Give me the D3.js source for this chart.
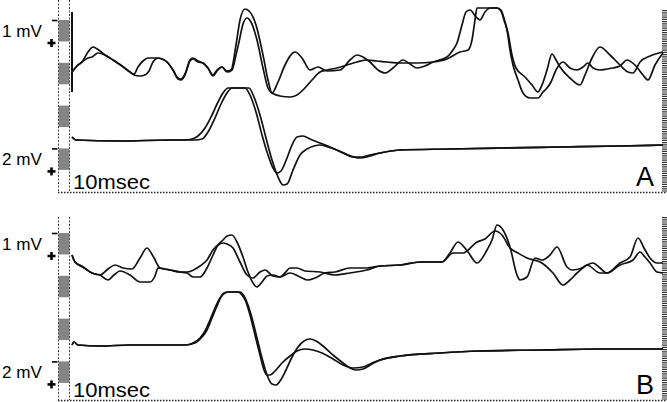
<!DOCTYPE html>
<html>
<head>
<meta charset="utf-8">
<script src="https://cdn.jsdelivr.net/npm/d3@7"></script>
<style>
  body { margin: 0; background: #fff; }
  svg { display: block; }
  text { font-family: "Liberation Sans", Arial, sans-serif; fill: #000; }
</style>
</head>
<body>
<div id="chart"></div>
<script>
'use strict';

// trace samples: [time (ms-ish units), amplitude (mV, + is down)]
const aUpper1 = [[0,0],[2.5,-0.3],[5,-0.5],[8,-1],[10.5,-1.25],[14,-1.05],[16.5,-0.85],[20.5,-0.6],[25,-0.3],[29,0],[31,0.1],[33,-0.25],[35.5,-0.55],[38,-0.7],[41.5,-0.7],[45,-0.65],[47.5,-0.5],[50.5,-0.1],[53,0.3],[54.5,0.35],[56.5,0.1],[59,-0.6],[60.5,-0.7],[63,-0.55],[65.5,-0.45],[68,-0.2],[70.5,0.15],[72.5,-0.1],[75,-0.25],[77.5,-0.05],[79.5,-0.1],[82,-1.35],[84,-2.6],[86.5,-3.15],[89,-3],[92,-2.35],[95.5,-0.85],[98,0.4],[100,1.05],[103,0.5],[106.5,-0.35],[111.5,-1],[115,-0.7],[119,-0.1],[123,-0.25],[127.5,-0.05],[134,-0.1],[139,-0.6],[142.5,-0.85],[145.5,-0.75],[149,-0.5],[153,-0.1],[156.5,0.05],[160.5,-0.2],[165.5,-0.6],[169,-0.4],[172.5,-0.2],[176.5,-0.3],[180.5,-0.5],[187.5,-0.75],[190.5,-1.1],[192.5,-1.45],[195,-2.35],[197,-3],[199,-3.1],[202,-2.75],[204,-2.6],[206.5,-3],[209,-3.2],[212.5,-3.2],[214.5,-3.1],[216.5,-2.5],[218,-1.95],[220,-0.85],[222,-0.2],[226.5,0.25],[230,0.65],[233,1],[235,0.65],[237.5,-0.1],[240,-0.9],[242,-0.6],[244,-0.25],[249,0.3],[254,0.65],[256.5,0.15],[260,-0.7],[264,-1.25],[269,-0.85],[274,-0.35],[278,0],[280.5,0.05],[284,-0.5],[289,-0.8],[295.5,-1]];
const aUpper2 = [[0,0],[2.5,-0.3],[5,-0.5],[8,-0.7],[10,-0.75],[13,-0.95],[16.5,-0.85],[20.5,-0.6],[25,-0.3],[29,0],[31,0.15],[34,0.2],[36.5,0.15],[38.5,-0.05],[40.5,-0.5],[43,-0.7],[45,-0.65],[47.5,-0.5],[50.5,-0.1],[53,0.35],[54.5,0.4],[56.5,0.15],[59,-0.55],[60.5,-0.65],[63,-0.5],[65.5,-0.45],[68,-0.2],[70.5,0.2],[72.5,-0.05],[75,-0.25],[77.5,0],[80,-0.1],[82,-0.85],[83.5,-1.5],[85.5,-2.4],[87.5,-2.7],[89.5,-2.5],[92.5,-1.6],[95.5,-0.2],[98,0.8],[100,1.05],[104,1.2],[109,1.25],[112.5,1.15],[115.5,0.9],[120,0.4],[124,0],[127.5,-0.1],[132.5,-0.2],[137.5,-0.35],[142.5,-0.5],[147.5,-0.6],[152.5,-0.55],[157.5,-0.5],[164,-0.45],[172.5,-0.45],[180.5,-0.5],[187.5,-0.65],[194,-1],[198,-1.1],[200,-1.6],[201.5,-2.6],[202.5,-3.2],[207.5,-3.2],[212.5,-3.2],[214.5,-3.05],[216,-2.6],[217.5,-2.1],[219,-1.1],[220.5,-0.35],[223,0.4],[225.5,1.05],[229,1.3],[233,1.3],[235.5,1],[237.5,0.8],[239.5,0.5],[242,-0.1],[245.5,-0.5],[249,-0.2],[252.5,-0.1],[255.5,-0.25],[258,-0.45],[260.5,-0.2],[264,-0.1],[267.5,-0.15],[270.5,-0.2],[274,-0.3],[277.5,-0.6],[281.5,-0.35],[285.5,0.15],[288,0.4],[291.5,-0.35],[295.5,-0.95]];
const aLower1 = [[0,-0.3],[2,0],[24,0.1],[49,0],[56.5,0],[60,-0.1],[63,-0.4],[66.5,-1.2],[70,-2.5],[73,-3.8],[75.5,-4.7],[78,-5.2],[86.5,-5.2],[89,-4.5],[92,-2.8],[95,-0.5],[98,1.5],[100.5,2.8],[102.5,3.3],[104.5,3.1],[107.5,1.8],[110,0.5],[112.5,-0.3],[115.5,-0.4],[119,-0.1],[124,0.3],[129,0.7],[135.5,1.3],[140.5,1.7],[145,1.7],[149,1.5],[154,1.3],[164,1.0],[189,0.9],[214,0.8],[244,0.7],[274,0.6],[295.5,0.5]];
const aLower2 = [[0,-0.3],[2,0],[24,0.1],[49,0],[56.5,0],[61.5,0],[65,-0.1],[68,-0.8],[71.5,-2.2],[74.5,-3.6],[77.5,-4.7],[80,-5.2],[88.5,-5.2],[91,-4.3],[94,-2.5],[97,-0.2],[100,2.0],[103,3.7],[105.5,4.5],[107.5,4.4],[110.5,3.0],[114,1.5],[117.5,0.9],[121,0.6],[124,0.5],[128,0.7],[132.5,1.0],[138,1.5],[144,1.8],[149,1.6],[154,1.3],[164,1.0],[189,0.9],[214,0.8],[244,0.7],[274,0.6],[295.5,0.5]];
const bUpper1 = [[0,-0.5],[1.5,-0.15],[5.5,0.1],[10,0.4],[14,0.5],[18,0.2],[21.5,0],[25.5,0.15],[30,0.2],[34,-0.35],[37.5,-0.85],[40.5,-0.45],[44,0.15],[49,0.25],[54,0.35],[57.5,0.4],[60.5,0.6],[64,0.6],[67.5,0.15],[70.5,-0.5],[73,-1],[75.5,-1.25],[77.5,-1.45],[80,-1.5],[82.5,-1.15],[85.5,-0.4],[88,0.35],[90.5,0.9],[92.5,1.1],[95,0.85],[97.5,0.55],[100.5,0.5],[104,0.6],[106.5,0.4],[109,0.15],[112.5,0.15],[116.5,0.3],[124,0.35],[131.5,0.5],[139,0.4],[147.5,0.25],[154,0.05],[164,0],[174,-0.15],[185,-0.15],[189,-0.6],[193,-1.15],[198,-0.65],[202.5,-0.1],[207.5,-0.75],[210,-1.25],[212.5,-2],[215.5,-1.75],[219,-0.9],[222.5,0.5],[224,0.75],[227.5,0.6],[231.5,-0.35],[235,-0.25],[239,-0.5],[242.5,-0.9],[247.5,0.1],[250,0.25],[255,0.15],[257.5,0],[264,0.4],[267.5,0.4],[274,-0.1],[279,-0.4],[283,-1.35],[286,-0.85],[289,-0.35],[292.5,-0.1],[295.5,-0.1]];
const bUpper2 = [[0,-0.5],[1.5,-0.15],[5.5,0.1],[10,0.4],[14,0.5],[18,0.75],[21,0.5],[24,0.3],[29,0.5],[34,0.85],[39,0.85],[41.5,0.55],[43,0.15],[46.5,0.2],[49,0.25],[54,0.35],[57.5,0.35],[64,0.05],[67.5,-0.25],[70.5,-0.75],[73,-1],[75.5,-1.1],[77.5,-1.05],[80.5,-0.85],[84,-0.15],[87.5,0.5],[90.5,0.65],[94,0.35],[96.5,0.25],[100.5,0.55],[104,0.6],[109,0.4],[114,0.6],[118,0.75],[121.5,0.65],[126.5,0.4],[131.5,0.35],[139,0.15],[147.5,0.15],[154,0.05],[164,0],[174,-0.15],[185,-0.15],[190.5,-0.6],[195.5,-0.6],[202.5,-1.15],[206.5,-1.3],[211.5,-1.7],[215,-1.5],[219,-0.85],[223,-0.6],[227.5,-0.35],[235,-0.1],[240.5,0.4],[245.5,1],[249,0.75],[252.5,0.4],[257.5,0],[260.5,-0.1],[264,0.15],[267.5,0.4],[274,0],[280.5,-0.25],[284,-0.65],[286.5,-0.4],[289,-0.1],[292.5,0.35],[295.5,0.4]];
const bLower1 = [[0,0],[1,-0.3],[3,0],[14,0.1],[29,0],[44,0],[56.5,0],[60.5,-0.2],[64,-0.7],[66.5,-1.4],[69,-2.5],[71.5,-3.7],[74,-4.7],[76,-5.2],[78,-5.3],[83,-5.3],[85,-5],[87,-4.3],[89,-3],[91.5,-1],[94,1],[96,2.5],[97.5,3],[99,3],[101.5,2.6],[105,1.8],[109,1.1],[112.5,0.6],[116.5,0.4],[120.5,0.5],[125,0.8],[130.5,1.4],[135.5,2],[140.5,2.3],[145.5,2.2],[150,1.8],[154,1.5],[164,1.1],[184,0.8],[204,0.6],[234,0.5],[264,0.4],[295.5,0.4]];
const bLower2 = [[0,0],[1,-0.3],[3,0],[14,0.1],[29,0],[44,0],[56.5,0],[61.5,-0.2],[65,-0.8],[67.5,-1.5],[70,-2.7],[72.5,-3.9],[74.5,-4.8],[76.5,-5.2],[78.5,-5.3],[84,-5.3],[86,-4.9],[88,-4],[90,-2.7],[92.5,-0.7],[95,1.3],[97.5,3],[100,3.9],[102,4],[104,3.6],[107,2.5],[110,1.2],[113,0.2],[116,-0.4],[119,-0.6],[122,-0.4],[125.5,0.1],[130.5,1],[135.5,1.8],[139,2.3],[142,2.5],[145.5,2.4],[150,1.9],[154,1.5],[164,1.1],[184,0.8],[204,0.6],[234,0.5],[264,0.4],[295.5,0.4]];

const panelNames = ["A", "B"];
const calLabels = ["1 mV", "2 mV"];
const timeLabel = "10msec";
const blockIndex = [0, 1, 2, 3];

const width = 667, height = 402;

// layout of each panel (pixels)
const panels = [
    { name: panelNames[0], top: 0, bottom: 192, block0: 20, upperBase: 72, lowerBase: 140,
      upper: [aUpper1, aUpper2], lower: [aLower1, aLower2], artifact: true },
    { name: panelNames[1], top: 217, bottom: 400, block0: 233, upperBase: 265, lowerBase: 345,
      upper: [bUpper1, bUpper2], lower: [bLower1, bLower2], artifact: false }
];
const blockStep = 42.8, blockH = 21.5;

const svg = d3.select("#chart").append("svg")
    .attr("width", width)
    .attr("height", height);

const x = d3.scaleLinear().domain([0, 296.5]).range([72, 665]);

const drawPanel = (p) => {
    const g = svg.append("g");

    // calibration bar: gray blocks between two dashed rails
    g.selectAll(".block")
        .data(blockIndex)
        .enter().append("rect")
        .attr("x", 58.5).attr("width", 11)
        .attr("y", d => p.block0 + d * blockStep)
        .attr("height", blockH)
        .attr("fill", "#858585");

    [58.5, 69.5].forEach(xx => {
        g.append("line")
            .attr("x1", xx).attr("x2", xx)
            .attr("y1", p.top).attr("y2", p.bottom)
            .attr("stroke", "#444").attr("stroke-width", 1)
            .attr("stroke-dasharray", "2,1.5");
    });

    // bottom dotted line
    g.append("line")
        .attr("x1", 58).attr("x2", width)
        .attr("y1", p.bottom + 0.5).attr("y2", p.bottom + 0.5)
        .attr("stroke", "#222").attr("stroke-width", 1.5)
        .attr("stroke-dasharray", "1.5,1.5");

    // right edge ruler
    g.append("line")
        .attr("x1", 664.5).attr("x2", 664.5)
        .attr("y1", p.top + (p.artifact ? 10 : 0)).attr("y2", p.bottom)
        .attr("stroke", "#333").attr("stroke-width", 5)
        .attr("stroke-dasharray", "1.2,1");

    // calibration labels and polarity marks
    calLabels.forEach((lab, i) => {
        const yTop = p.block0 + (i === 0 ? 0 : 3) * blockStep;
        g.append("text")
            .attr("x", 2).attr("y", yTop + 17)
            .attr("font-size", 17)
            .attr("textLength", 40).attr("lengthAdjust", "spacingAndGlyphs")
            .text(lab);
        g.append("line")
            .attr("x1", 52).attr("x2", 57.5)
            .attr("y1", yTop + 0.5).attr("y2", yTop + 0.5)
            .attr("stroke", "#000").attr("stroke-width", 1.6);
        const py = yTop + blockH + 1.5;
        g.append("line")
            .attr("x1", 47.5).attr("x2", 55.5)
            .attr("y1", py).attr("y2", py)
            .attr("stroke", "#000").attr("stroke-width", 2.6);
        g.append("line")
            .attr("x1", 51.5).attr("x2", 51.5)
            .attr("y1", py - 4).attr("y2", py + 4)
            .attr("stroke", "#000").attr("stroke-width", 2.6);
    });

    g.append("text")
        .attr("x", 73).attr("y", p.bottom - 3)
        .attr("font-size", 20)
        .attr("textLength", 77).attr("lengthAdjust", "spacingAndGlyphs")
        .text(timeLabel);

    g.append("text")
        .attr("x", 636).attr("y", p.bottom - 6)
        .attr("font-size", 27)
        .text(p.name);

    // stimulus artifact at the start of panel A
    if (p.artifact) {
        g.append("line")
            .attr("x1", 72).attr("x2", 72)
            .attr("y1", 12).attr("y2", 92)
            .attr("stroke", "#111").attr("stroke-width", 2);
    }

    // scales: 20 px per mV for upper traces, 10 px per mV for lower traces
    const yUpper = d3.scaleLinear().domain([0, 1]).range([p.upperBase, p.upperBase + 20]);
    const yLower = d3.scaleLinear().domain([0, 1]).range([p.lowerBase, p.lowerBase + 10]);

    const lineUpper = d3.line()
        .x(d => x(d[0])).y(d => yUpper(d[1]))
        .curve(d3.curveMonotoneX);
    const lineLower = d3.line()
        .x(d => x(d[0])).y(d => yLower(d[1]))
        .curve(d3.curveMonotoneX);

    g.selectAll(".upper")
        .data(p.upper)
        .enter().append("path")
        .attr("class", "upper")
        .attr("d", lineUpper)
        .attr("fill", "none").attr("stroke", "#111")
        .attr("stroke-width", 1.7).attr("stroke-linejoin", "round");

    g.selectAll(".lower")
        .data(p.lower)
        .enter().append("path")
        .attr("class", "lower")
        .attr("d", lineLower)
        .attr("fill", "none").attr("stroke", "#111")
        .attr("stroke-width", 1.7).attr("stroke-linejoin", "round");
}

panels.forEach(drawPanel);
</script>
</body>
</html>
